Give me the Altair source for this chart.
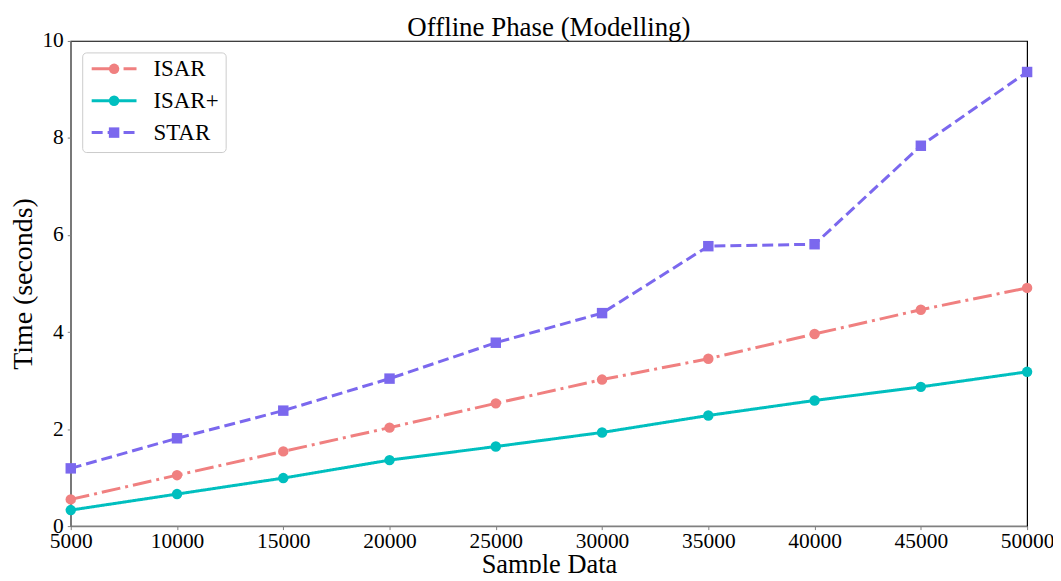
import altair as alt
import pandas as pd

samples = [5000, 10000, 15000, 20000, 25000, 30000, 35000, 40000, 45000, 50000]
isar = [0.55, 1.05, 1.54, 2.03, 2.53, 3.02, 3.45, 3.96, 4.46, 4.91]
isar_plus = [0.33, 0.66, 0.99, 1.36, 1.64, 1.93, 2.28, 2.59, 2.87, 3.18]
star = [1.19, 1.81, 2.38, 3.04, 3.78, 4.39, 5.77, 5.81, 7.84, 9.36]

series_names = ["ISAR", "ISAR+", "STAR"]
series_colors = ["#F08080", "#00BFBF", "#7B68EE"]
series_dash = [[19, 5, 3, 5], [1, 0], [11, 5]]
series_shapes = ["circle", "circle", "square"]

chart_title = "Offline Phase (Modelling)"

rows = []
for name, vals in zip(series_names, [isar, isar_plus, star]):
    for s, v in zip(samples, vals):
        rows.append({"Series": name, "Samples": s, "Time": v})
df = pd.DataFrame(rows)
legend_df = pd.DataFrame({"Series": series_names, "idx": [0, 1, 2]})

FONT = "Liberation Serif"
AXIS_GRAY = "#808080"

color = alt.Color("Series:N", scale=alt.Scale(domain=series_names, range=series_colors), legend=None)
dash = alt.StrokeDash("Series:N", scale=alt.Scale(domain=series_names, range=series_dash), legend=None)
shape = alt.Shape("Series:N", scale=alt.Scale(domain=series_names, range=series_shapes), legend=None)

x = alt.X("Samples:Q", title="Sample Data",
          scale=alt.Scale(domain=[5000, 50000], nice=False),
          axis=alt.Axis(values=samples, format="d", labelFontSize=21.5, titleFontSize=26.5,
                        labelFont=FONT, titleFont=FONT, titleFontWeight="normal",
                        grid=False, tickSize=3.5, domainColor=AXIS_GRAY, tickColor=AXIS_GRAY,
                        domainWidth=1.2,
                        labelColor="black", titleColor="black", titlePadding=0, labelPadding=1,
                        labelFlush=False))
y = alt.Y("Time:Q", title="Time (seconds)",
          scale=alt.Scale(domain=[0, 10], nice=False),
          axis=alt.Axis(values=[0, 2, 4, 6, 8, 10], labelFontSize=21.5, titleFontSize=28,
                        labelFont=FONT, titleFont=FONT, titleFontWeight="normal",
                        grid=False, tickSize=3.5, domainColor=AXIS_GRAY, tickColor=AXIS_GRAY,
                        domainWidth=1.2,
                        labelColor="black", titleColor="black", titlePadding=4, labelPadding=4,
                        labelFlush=False))

base = alt.Chart(df)
lines = base.mark_line(strokeWidth=3).encode(x=x, y=y, color=color, strokeDash=dash, detail="Series:N")
points = base.mark_point(filled=True, size=110, opacity=1).encode(x=x, y=y, color=color, shape=shape)

lbase = alt.Chart(legend_df).transform_calculate(ly="28 + 32 * datum.idx")
legend_box = alt.Chart(pd.DataFrame({"a": [0]})).mark_rect(
    fill="white", stroke="#cccccc", strokeWidth=1, cornerRadius=4
).encode(x=alt.value(12), x2=alt.value(156), y=alt.value(12), y2=alt.value(112))
legend_lines = lbase.mark_rule(strokeWidth=3).encode(
    x=alt.value(21), x2=alt.value(66), y=alt.Y("ly:Q", scale=None), color=color, strokeDash=dash)
legend_pts = lbase.mark_point(filled=True, size=110, opacity=1).encode(
    x=alt.value(43.5), y=alt.Y("ly:Q", scale=None), color=color, shape=shape)
legend_txt = lbase.mark_text(align="left", baseline="middle", fontSize=23, font=FONT, color="black").encode(
    x=alt.value(83), y=alt.Y("ly:Q", scale=None), text="Series:N")

title_mark = alt.Chart(pd.DataFrame({"t": [chart_title]})).mark_text(
    align="center", baseline="alphabetic", fontSize=27, font=FONT, color="black"
).encode(x=alt.value(480), y=alt.value(-5), text="t:N")

chart = alt.layer(lines, points, legend_box, legend_lines, legend_pts, legend_txt, title_mark).properties(
    width=960, height=487,
    autosize=alt.AutoSizeParams(type="none"),
    padding={"left": 63, "top": 32, "right": 26, "bottom": 46},
).configure_view(stroke="black", strokeWidth=1.2)

chart.save("out.html", embed_options={"renderer": "svg", "actions": False})
